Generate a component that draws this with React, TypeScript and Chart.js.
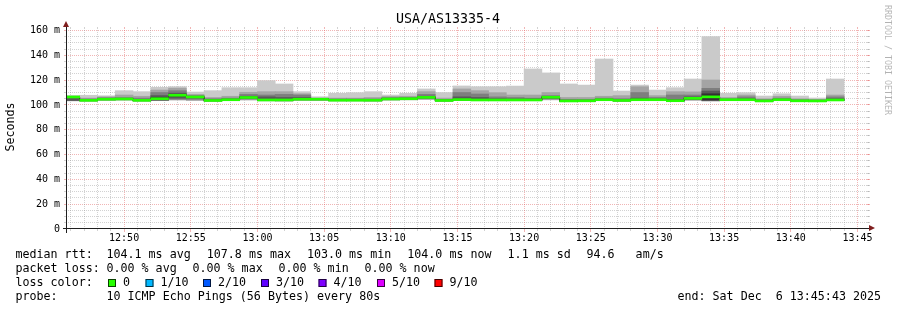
import React, { useEffect, useRef } from 'react';
import { Chart, registerables } from 'chart.js';

Chart.register(...registerables);

// ---------- data ----------
const chartTitle = 'USA/AS13335-4';
const yAxisTitle = 'Seconds';
const watermark = 'RRDTOOL / TOBI OETIKER';

// time in seconds since midnight
const FIRST_STEP_START = 12 * 3600 + 45 * 60 + 20; // first 80 s step
const STEP_SECONDS = 80;
const VIEW_START = 12 * 3600 + 45 * 60 + 43; // 12:45:43
const VIEW_END = 13 * 3600 + 45 * 60 + 43; // 13:45:43

const xTickValues = [46200, 46500, 46800, 47100, 47400, 47700, 48000, 48300, 48600, 48900, 49200, 49500];
const xTickLabels = ['12:50', '12:55', '13:00', '13:05', '13:10', '13:15', '13:20', '13:25', '13:30', '13:35', '13:40', '13:45'];
const yTickValues = [0, 20, 40, 60, 80, 100, 120, 140, 160];
const yTickLabels = ['0', '20 m', '40 m', '60 m', '80 m', '100 m', '120 m', '140 m', '160 m'];
const Y_MAX = 161.2;

// median rtt (ms) per 80 s step
const median = [106.4, 103.7, 104.6, 104.8, 103.7, 105.0, 107.8, 106.4, 103.6, 104.2, 106.0, 104.0, 104.0, 104.6, 104.6, 103.8, 103.8, 103.8, 104.8, 105.0, 106.1, 103.6, 104.3, 104.0, 104.0, 104.0, 104.0, 106.2, 103.2, 103.3, 104.2, 103.6, 104.2, 104.2, 103.4, 105.3, 106.5, 104.2, 104.2, 103.2, 104.2, 103.3, 103.2, 104.0];
// sorted pings (ms) per step, ping1 = fastest, ping10 = slowest
const ping1 = [103.2, 103.0, 103.6, 103.8, 103.0, 103.8, 103.9, 103.5, 103.0, 103.4, 103.8, 103.2, 103.0, 103.6, 103.5, 103.2, 103.2, 103.0, 103.8, 104.0, 104.3, 103.0, 103.5, 103.4, 103.4, 103.4, 103.4, 104.0, 102.9, 102.9, 103.5, 103.0, 103.5, 103.5, 103.0, 103.6, 103.0, 103.5, 103.6, 102.9, 103.6, 102.9, 102.9, 103.5];
const ping2 = [103.4, 103.2, 103.8, 104.0, 103.2, 103.9, 104.1, 103.7, 103.1, 103.5, 104.2, 103.4, 103.2, 103.8, 103.7, 103.3, 103.3, 103.2, 104.0, 104.2, 104.6, 103.1, 103.7, 103.5, 103.5, 103.5, 103.5, 104.4, 103.0, 103.0, 103.7, 103.1, 103.7, 103.7, 103.1, 103.9, 103.3, 103.7, 103.8, 103.0, 103.8, 103.0, 103.0, 103.6];
const ping3 = [103.5, 103.3, 104.0, 104.2, 103.3, 103.9, 104.6, 104.5, 103.2, 103.7, 104.8, 103.6, 103.4, 104.0, 104.0, 103.4, 103.4, 103.3, 104.2, 104.4, 105.0, 103.2, 103.8, 103.6, 103.6, 103.6, 103.6, 104.8, 103.0, 103.0, 103.8, 103.2, 103.8, 103.8, 103.1, 104.2, 103.5, 103.8, 103.9, 103.0, 103.9, 103.0, 103.0, 103.7];
const ping4 = [103.6, 103.4, 104.2, 104.4, 103.4, 104.0, 105.5, 105.5, 103.3, 103.8, 105.2, 103.7, 103.6, 104.2, 104.2, 103.5, 103.5, 103.4, 104.4, 104.6, 105.5, 103.3, 104.0, 103.7, 103.7, 103.7, 103.7, 105.3, 103.0, 103.0, 103.9, 103.3, 103.9, 103.9, 103.1, 104.5, 103.7, 103.9, 104.0, 103.0, 104.0, 103.0, 103.0, 103.7];
const ping5 = [106.2, 103.5, 104.4, 104.6, 103.5, 104.0, 107.1, 106.2, 103.4, 104.0, 105.7, 103.8, 103.8, 104.4, 104.4, 103.6, 103.6, 103.6, 104.6, 104.8, 105.9, 103.4, 104.1, 103.8, 103.8, 103.8, 103.8, 106.0, 103.0, 103.1, 104.0, 103.4, 104.0, 104.0, 103.2, 105.0, 104.0, 104.0, 104.0, 103.0, 104.0, 103.1, 103.0, 103.8];
const ping6 = [106.6, 103.9, 104.8, 105.0, 103.9, 106.0, 108.5, 106.6, 103.8, 104.4, 106.3, 104.2, 104.2, 104.8, 104.8, 104.0, 104.0, 104.0, 105.0, 105.2, 106.3, 103.8, 104.5, 104.2, 104.2, 104.2, 104.2, 106.4, 103.4, 103.5, 104.4, 103.8, 104.4, 104.4, 103.6, 105.6, 109.0, 104.4, 104.4, 103.4, 104.4, 103.5, 103.4, 104.2];
const ping7 = [106.7, 104.2, 105.2, 105.2, 104.2, 107.5, 109.5, 107.0, 104.2, 104.8, 107.0, 106.5, 106.0, 106.0, 105.0, 104.2, 104.2, 104.2, 105.3, 105.5, 107.0, 104.0, 106.5, 106.0, 105.0, 104.8, 104.8, 106.8, 103.8, 103.8, 104.6, 104.0, 105.5, 104.8, 104.5, 106.5, 111.2, 104.6, 105.0, 103.8, 104.6, 103.8, 103.6, 105.0];
const ping8 = [106.9, 104.8, 105.8, 106.0, 105.5, 110.0, 111.5, 107.5, 105.0, 105.5, 108.5, 108.0, 108.5, 108.0, 105.2, 104.8, 104.8, 104.8, 106.0, 106.0, 108.5, 104.5, 110.0, 108.8, 106.5, 106.0, 105.5, 107.5, 104.5, 104.5, 105.5, 105.0, 110.0, 106.0, 108.0, 108.0, 113.4, 105.0, 106.5, 104.2, 105.5, 104.2, 104.0, 106.5];
const ping9 = [107.1, 105.5, 106.5, 108.0, 107.0, 112.0, 113.5, 108.5, 106.0, 107.0, 110.2, 110.7, 110.7, 109.0, 105.5, 105.5, 105.5, 106.0, 106.8, 107.0, 110.7, 105.5, 112.9, 111.5, 109.9, 108.0, 108.0, 110.0, 106.0, 106.0, 107.0, 107.5, 114.7, 107.5, 110.7, 110.5, 120.1, 106.0, 108.0, 105.0, 107.0, 105.0, 104.5, 108.0];
const ping10 = [107.5, 107.8, 107.4, 111.5, 110.7, 114.2, 114.7, 110.4, 111.5, 113.9, 113.9, 119.6, 116.9, 110.7, 106.6, 109.4, 109.9, 110.7, 108.0, 109.4, 112.9, 110.0, 115.3, 114.7, 114.7, 115.2, 129.0, 125.8, 116.9, 116.0, 137.0, 111.2, 116.0, 112.0, 113.9, 120.9, 155.0, 109.4, 109.9, 107.2, 109.0, 107.2, 105.6, 120.9];

const lossLabels = ['0', '1/10', '2/10', '3/10', '4/10', '5/10', '9/10'];
const lossColors = ['#26ff00', '#00b8ff', '#0059ff', '#5e00ff', '#7e00ff', '#dd00ff', '#ff0000'];

const rttStats = ['104.1 ms avg', '107.8 ms max', '103.0 ms min', '104.0 ms now', '1.1 ms sd', '94.6   am/s'];
const lossStats = ['0.00 % avg', '0.00 % max', '0.00 % min', '0.00 % now'];
const probeText = '10 ICMP Echo Pings (56 Bytes) every 80s';
const endText = 'end: Sat Dec  6 13:45:43 2025';

// ---------- drawing ----------
const MONO = '"DejaVu Sans Mono", "Liberation Mono", monospace';
const smokeColors = ['#cacaca', '#a4a4a4', '#7e7e7e', '#585858', '#323232'];
const MINOR_GRID = 'rgba(143,143,143,0.4)';
const MAJOR_GRID = 'rgba(222,79,79,0.42)';

const rrdPlugin = {
  id: 'rrdDecor',
  beforeDatasetsDraw(chart: any) {
    const { ctx, chartArea, scales } = chart;
    const xs = scales.x;
    const ys = scales.y;
    const L = chartArea.left;
    const R = chartArea.right;
    const T = chartArea.top;
    const B = chartArea.bottom;
    ctx.save();
    // horizontal grid
    for (let v = 5; v <= Y_MAX; v += 5) {
      const major = v % 20 === 0;
      const py = Math.floor(ys.getPixelForValue(v));
      ctx.fillStyle = major ? MAJOR_GRID : MINOR_GRID;
      for (let x = L - 1; x <= R + 1; x += 2) ctx.fillRect(x, py, 1, 1);
      ctx.fillRect(L - 3, py, 2, 1);
      ctx.fillRect(R, py, 3, 1);
    }
    // vertical grid
    const firstMin = Math.ceil(VIEW_START / 60) * 60;
    for (let t = firstMin; t <= VIEW_END; t += 60) {
      const major = t % 300 === 0;
      const px = Math.floor(xs.getPixelForValue(t));
      ctx.fillStyle = major ? MAJOR_GRID : MINOR_GRID;
      for (let y = B - 1; y >= T; y -= 2) ctx.fillRect(px, y, 1, 1);
      ctx.fillRect(px, T - 2, 1, 2);
      ctx.fillRect(px, B, 1, major ? 3 : 2);
    }
    ctx.restore();
  },
  afterDatasetsDraw(chart: any) {
    const { ctx, chartArea } = chart;
    const L = chartArea.left;
    const R = chartArea.right;
    const T = chartArea.top;
    const B = chartArea.bottom;
    ctx.save();
    // axes
    ctx.fillStyle = '#1f1f1f';
    ctx.fillRect(L - 4, B - 1, R - L + 8, 1);
    ctx.fillRect(L - 1, T - 4, 1, B - T + 8);
    // arrows
    ctx.fillStyle = '#801f1f';
    ctx.beginPath();
    ctx.moveTo(R + 2, B - 4);
    ctx.lineTo(R + 2, B + 2);
    ctx.lineTo(R + 8, B - 1);
    ctx.closePath();
    ctx.fill();
    ctx.beginPath();
    ctx.moveTo(L - 4, T - 2);
    ctx.lineTo(L + 2, T - 2);
    ctx.lineTo(L - 1, T - 8);
    ctx.closePath();
    ctx.fill();

    // title
    ctx.fillStyle = '#000';
    ctx.textBaseline = 'middle';
    ctx.textAlign = 'center';
    ctx.font = `13.3px ${MONO}`;
    ctx.fillText(chartTitle, 448, 19.5);

    // y axis title
    ctx.font = `11.66px ${MONO}`;
    ctx.save();
    ctx.translate(11, 127);
    ctx.rotate(-Math.PI / 2);
    ctx.fillText(yAxisTitle, 0, 0);
    ctx.restore();

    // watermark
    ctx.save();
    ctx.font = `8.3px ${MONO}`;
    ctx.fillStyle = 'rgba(0,0,0,0.3)';
    ctx.translate(887.5, 5);
    ctx.rotate(Math.PI / 2);
    ctx.textAlign = 'left';
    ctx.fillText(watermark, 0, 0);
    ctx.restore();

    // legend
    ctx.textAlign = 'left';
    ctx.font = `11.66px ${MONO}`;
    ctx.fillStyle = '#000';
    ctx.fillText('median rtt:', 15.5, 254.5);
    const rttX = [106.5, 206.8, 307, 407.3, 507.6, 586.5];
    rttStats.forEach((s, i) => ctx.fillText(s, rttX[i], 254.5));
    ctx.fillText('packet loss:', 15.5, 268.5);
    const lossX = [106.5, 192.5, 278.5, 364.5];
    lossStats.forEach((s, i) => ctx.fillText(s, lossX[i], 268.5));
    ctx.fillText('loss color:', 15.5, 282.5);
    const boxX = [108, 145.5, 203, 261, 318.5, 377, 434.5];
    lossLabels.forEach((s, i) => {
      ctx.fillStyle = lossColors[i];
      ctx.fillRect(boxX[i], 279, 8, 8);
      ctx.strokeStyle = 'rgba(0,0,0,0.75)';
      ctx.lineWidth = 1;
      ctx.strokeRect(boxX[i] + 0.5, 279.5, 7, 7);
      ctx.fillStyle = '#000';
      ctx.fillText(s, boxX[i] + 15, 282.5);
    });
    ctx.fillText('probe:', 15.5, 296.5);
    ctx.fillText(probeText, 106.5, 296.5);
    ctx.fillText(endText, 677.5, 296.5);
    ctx.restore();
  },
};

export default function App() {
  const canvasRef = useRef<HTMLCanvasElement>(null);

  useEffect(() => {
    const canvas = canvasRef.current;
    if (!canvas) return;
    const starts = median.map((_, i) => FIRST_STEP_START + STEP_SECONDS * i);
    const centers = starts.map((t) => t + STEP_SECONDS / 2);
    const bands: [number[], number[]][] = [
      [ping1, ping10],
      [ping2, ping9],
      [ping3, ping8],
      [ping4, ping7],
      [ping5, ping6],
    ];
    const halfWidth = Y_MAX / 200;
    const datasets: any[] = bands.map(([lo, hi], k) => ({
      type: 'bar',
      data: centers.map((x, i) => ({ x, y: [lo[i], hi[i]] })),
      backgroundColor: smokeColors[k],
      borderWidth: 0,
      grouped: false,
      barPercentage: 1,
      categoryPercentage: 1,
      order: 10 - k,
    }));
    const last = median.length - 1;
    datasets.push({
      type: 'line',
      data: [
        ...starts.map((x, i) => ({ x, y: median[i] })),
        { x: starts[last] + STEP_SECONDS, y: median[last] },
      ],
      borderColor: '#202020',
      borderWidth: 1,
      pointRadius: 0,
      stepped: 'before',
      fill: false,
      order: 2,
    });
    datasets.push({
      type: 'bar',
      data: centers.map((x, i) => ({ x, y: [median[i] - halfWidth, median[i] + halfWidth] })),
      backgroundColor: lossColors[0],
      borderWidth: 0,
      grouped: false,
      barPercentage: 1,
      categoryPercentage: 1,
      order: 1,
    });

    const chart = new Chart(canvas, {
      type: 'bar',
      data: { datasets },
      options: {
        responsive: false,
        animation: false,
        devicePixelRatio: 1,
        events: [],
        layout: { padding: { left: 0, right: 30, top: 29, bottom: 0 } },
        plugins: { legend: { display: false }, tooltip: { enabled: false }, title: { display: false } },
        scales: {
          x: {
            type: 'linear',
            min: VIEW_START,
            max: VIEW_END,
            offset: false,
            grid: { display: false, drawTicks: false },
            border: { display: false },
            afterBuildTicks: (axis: any) => {
              axis.ticks = xTickValues.map((value) => ({ value }));
            },
            afterFit: (axis: any) => {
              axis.height = 81;
            },
            ticks: {
              autoSkip: false,
              maxRotation: 0,
              padding: 3,
              color: '#000',
              font: { family: MONO, size: 10 },
              callback: (_v: any, i: number) => xTickLabels[i],
            },
          },
          y: {
            type: 'linear',
            min: 0,
            max: Y_MAX,
            grid: { display: false, drawTicks: false },
            border: { display: false },
            afterBuildTicks: (axis: any) => {
              axis.ticks = yTickValues.map((value) => ({ value }));
            },
            afterFit: (axis: any) => {
              axis.width = 67;
            },
            ticks: {
              padding: 7,
              color: '#000',
              font: { family: MONO, size: 10 },
              callback: (_v: any, i: number) => yTickLabels[i],
            },
          },
        },
      } as any,
      plugins: [rrdPlugin],
    });
    return () => chart.destroy();
  }, []);

  return (
    <div style={{ position: 'absolute', left: 0, top: 0, width: 897, height: 310, background: '#fff' }}>
      <canvas ref={canvasRef} width={897} height={310} style={{ display: 'block', width: 897, height: 310 }} />
    </div>
  );
}
